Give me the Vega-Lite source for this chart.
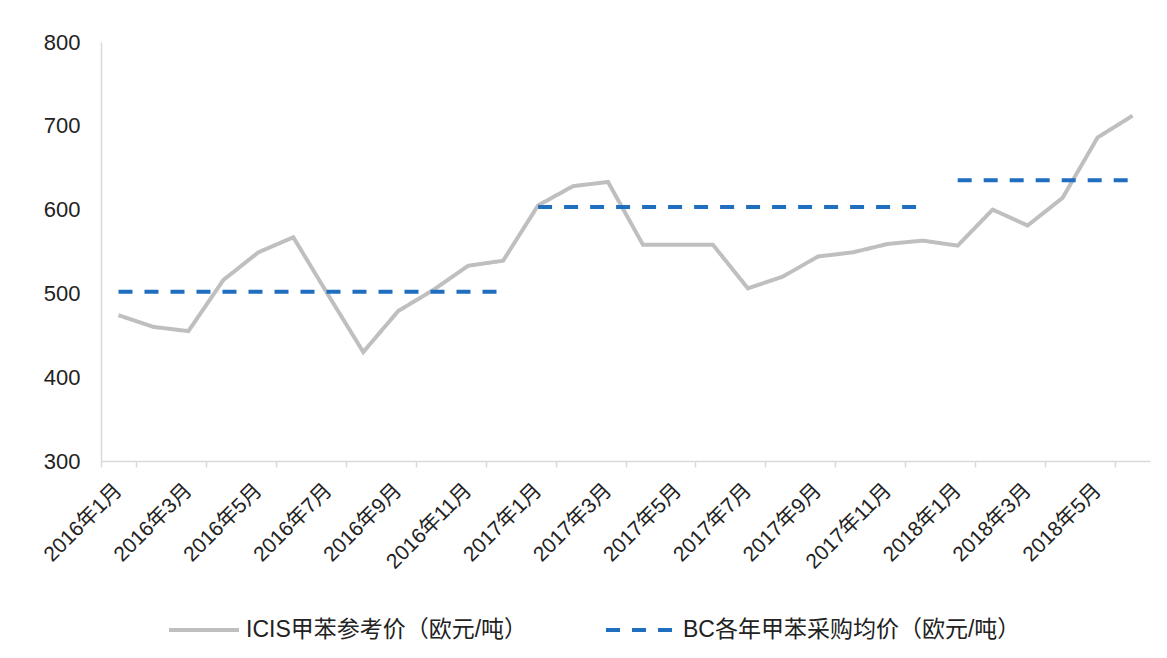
{
  "$schema": "https://vega.github.io/schema/vega-lite/v6.json",
  "width": 1049,
  "height": 419,
  "autosize": "none",
  "padding": {"left": 101, "top": 42, "right": 17, "bottom": 197},
  "background": "white",
  "config": {
    "view": {"stroke": null},
    "font": "Liberation Sans, Noto Sans CJK SC",
    "axis": {"labelFont": "Liberation Sans, Noto Sans CJK SC", "grid": false},
    "legend": {"labelFont": "Liberation Sans, Noto Sans CJK SC"}
  },
  "data": {
    "values": [
      {"m": "2016年1月", "s": "ICIS甲苯参考价（欧元/吨）", "g": "i", "v": 474},
      {"m": "2016年2月", "s": "ICIS甲苯参考价（欧元/吨）", "g": "i", "v": 460},
      {"m": "2016年3月", "s": "ICIS甲苯参考价（欧元/吨）", "g": "i", "v": 455},
      {"m": "2016年4月", "s": "ICIS甲苯参考价（欧元/吨）", "g": "i", "v": 516},
      {"m": "2016年5月", "s": "ICIS甲苯参考价（欧元/吨）", "g": "i", "v": 549},
      {"m": "2016年6月", "s": "ICIS甲苯参考价（欧元/吨）", "g": "i", "v": 567},
      {"m": "2016年7月", "s": "ICIS甲苯参考价（欧元/吨）", "g": "i", "v": 498},
      {"m": "2016年8月", "s": "ICIS甲苯参考价（欧元/吨）", "g": "i", "v": 430},
      {"m": "2016年9月", "s": "ICIS甲苯参考价（欧元/吨）", "g": "i", "v": 479},
      {"m": "2016年10月", "s": "ICIS甲苯参考价（欧元/吨）", "g": "i", "v": 504},
      {"m": "2016年11月", "s": "ICIS甲苯参考价（欧元/吨）", "g": "i", "v": 533},
      {"m": "2016年12月", "s": "ICIS甲苯参考价（欧元/吨）", "g": "i", "v": 539},
      {"m": "2017年1月", "s": "ICIS甲苯参考价（欧元/吨）", "g": "i", "v": 605},
      {"m": "2017年2月", "s": "ICIS甲苯参考价（欧元/吨）", "g": "i", "v": 628},
      {"m": "2017年3月", "s": "ICIS甲苯参考价（欧元/吨）", "g": "i", "v": 633},
      {"m": "2017年4月", "s": "ICIS甲苯参考价（欧元/吨）", "g": "i", "v": 558},
      {"m": "2017年5月", "s": "ICIS甲苯参考价（欧元/吨）", "g": "i", "v": 558},
      {"m": "2017年6月", "s": "ICIS甲苯参考价（欧元/吨）", "g": "i", "v": 558},
      {"m": "2017年7月", "s": "ICIS甲苯参考价（欧元/吨）", "g": "i", "v": 506},
      {"m": "2017年8月", "s": "ICIS甲苯参考价（欧元/吨）", "g": "i", "v": 520},
      {"m": "2017年9月", "s": "ICIS甲苯参考价（欧元/吨）", "g": "i", "v": 544},
      {"m": "2017年10月", "s": "ICIS甲苯参考价（欧元/吨）", "g": "i", "v": 549},
      {"m": "2017年11月", "s": "ICIS甲苯参考价（欧元/吨）", "g": "i", "v": 559},
      {"m": "2017年12月", "s": "ICIS甲苯参考价（欧元/吨）", "g": "i", "v": 563},
      {"m": "2018年1月", "s": "ICIS甲苯参考价（欧元/吨）", "g": "i", "v": 557},
      {"m": "2018年2月", "s": "ICIS甲苯参考价（欧元/吨）", "g": "i", "v": 600},
      {"m": "2018年3月", "s": "ICIS甲苯参考价（欧元/吨）", "g": "i", "v": 581},
      {"m": "2018年4月", "s": "ICIS甲苯参考价（欧元/吨）", "g": "i", "v": 614},
      {"m": "2018年5月", "s": "ICIS甲苯参考价（欧元/吨）", "g": "i", "v": 686},
      {"m": "2018年6月", "s": "ICIS甲苯参考价（欧元/吨）", "g": "i", "v": 712},
      {"m": "2016年1月", "s": "BC各年甲苯采购均价（欧元/吨）", "g": "2016", "v": 502},
      {"m": "2016年12月", "s": "BC各年甲苯采购均价（欧元/吨）", "g": "2016", "v": 502},
      {"m": "2017年1月", "s": "BC各年甲苯采购均价（欧元/吨）", "g": "2017", "v": 603},
      {"m": "2017年12月", "s": "BC各年甲苯采购均价（欧元/吨）", "g": "2017", "v": 603},
      {"m": "2018年1月", "s": "BC各年甲苯采购均价（欧元/吨）", "g": "2018", "v": 635},
      {"m": "2018年6月", "s": "BC各年甲苯采购均价（欧元/吨）", "g": "2018", "v": 635}
    ]
  },
  "mark": {"type": "line", "strokeWidth": 4, "strokeCap": "butt"},
  "encoding": {
    "x": {
      "field": "m",
      "type": "ordinal",
      "scale": {"domain": ["2016年1月","2016年2月","2016年3月","2016年4月","2016年5月","2016年6月","2016年7月","2016年8月","2016年9月","2016年10月","2016年11月","2016年12月","2017年1月","2017年2月","2017年3月","2017年4月","2017年5月","2017年6月","2017年7月","2017年8月","2017年9月","2017年10月","2017年11月","2017年12月","2018年1月","2018年2月","2018年3月","2018年4月","2018年5月","2018年6月"], "paddingInner": 0, "paddingOuter": 0},
      "axis": {
        "title": null,
        "values": ["2016年1月","2016年3月","2016年5月","2016年7月","2016年9月","2016年11月","2017年1月","2017年3月","2017年5月","2017年7月","2017年9月","2017年11月","2018年1月","2018年3月","2018年5月"],
        "tickBand": "extent",
        "labelAngle": -45,
        "labelAlign": "right",
        "labelBaseline": "middle",
        "labelFontSize": 21,
        "labelColor": "#222222",
        "labelPadding": 20,
        "domainColor": "#D9D9D9",
        "domainWidth": 1.5,
        "tickColor": "#D9D9D9",
        "tickWidth": 1.5,
        "tickSize": 6,
        "labelLimit": 300
      }
    },
    "y": {
      "field": "v",
      "type": "quantitative",
      "scale": {"domain": [300, 800], "nice": false, "zero": false},
      "axis": {
        "title": null,
        "values": [300, 400, 500, 600, 700, 800],
        "ticks": false,
        "labelFontSize": 22,
        "labelColor": "#222222",
        "labelPadding": 21,
        "domainColor": "#D9D9D9",
        "domainWidth": 1.5
      }
    },
    "color": {
      "field": "s",
      "type": "nominal",
      "scale": {"domain": ["ICIS甲苯参考价（欧元/吨）", "BC各年甲苯采购均价（欧元/吨）"], "range": ["#BFBFBF", "#1F6EC0"]},
      "legend": {
        "title": null,
        "orient": "none",
        "direction": "horizontal",
        "legendX": 66,
        "legendY": 551,
        "symbolType": "stroke",
        "symbolSize": 4900,
        "symbolStrokeWidth": 4,
        "labelFontSize": 23,
        "labelColor": "#222222",
        "labelLimit": 500,
        "labelOffset": 5,
        "columnPadding": 70
      }
    },
    "strokeDash": {
      "field": "s",
      "type": "nominal",
      "scale": {"domain": ["ICIS甲苯参考价（欧元/吨）", "BC各年甲苯采购均价（欧元/吨）"], "range": [[1, 0], [14, 12]]},
      "legend": {
        "title": null,
        "orient": "none",
        "direction": "horizontal",
        "legendX": 66,
        "legendY": 551,
        "symbolType": "stroke",
        "symbolSize": 4900,
        "symbolStrokeWidth": 4,
        "labelFontSize": 23,
        "labelColor": "#222222",
        "labelLimit": 500,
        "labelOffset": 5,
        "columnPadding": 70
      }
    },
    "detail": {"field": "g", "type": "nominal"}
  }
}
